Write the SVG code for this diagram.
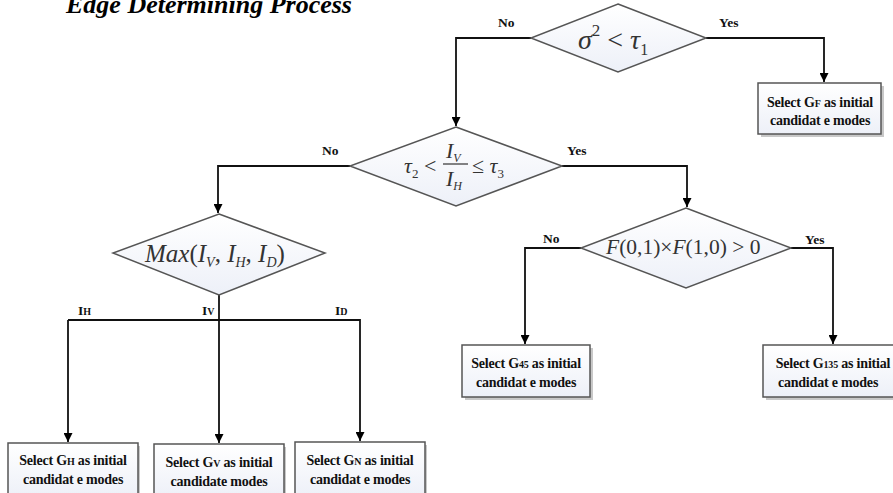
<svg xmlns="http://www.w3.org/2000/svg" width="893" height="493" viewBox="0 0 893 493">
<defs>
<linearGradient id="fillg" x1="0" y1="0" x2="0" y2="1">
<stop offset="0" stop-color="#ffffff"/>
<stop offset="1" stop-color="#edf0f8"/>
</linearGradient>
<marker id="arr" viewBox="0 0 10 10" refX="10" refY="5" markerWidth="9" markerHeight="9" markerUnits="userSpaceOnUse" orient="auto">
<path d="M0,0 L10,5 L0,10 Z" fill="#000"/>
</marker>
</defs>
<style>
.box{fill:url(#fillg);stroke:#555;stroke-width:1.5}
.shadow{fill:#c8c8c8}
.dia{fill:url(#fillg);stroke:#555;stroke-width:1.5}
.conn{fill:none;stroke:#111;stroke-width:1.8}
.lbl{font-family:"Liberation Serif",serif;font-weight:bold;font-size:13.5px;fill:#111}
.btxt{font-family:"Liberation Serif",serif;font-weight:bold;font-size:14px;fill:#111;text-anchor:middle;letter-spacing:-0.2px}
.sub{font-size:10px}
.math{font-family:"Liberation Serif",serif;font-style:italic;fill:#333}
.rm{font-style:normal}
.title{font-family:"Liberation Serif",serif;font-weight:bold;font-style:italic;font-size:26px;fill:#000}
</style>
<rect width="893" height="493" fill="#fff"/>
<text class="title" x="66" y="13">Edge Determining Process</text>

<g id="connectors">
<path class="conn" d="M531,38 H456 V126" marker-end="url(#arr)"/>
<path class="conn" d="M706,38 H824 V82" marker-end="url(#arr)"/>
<path class="conn" d="M350,166 H218 V213" marker-end="url(#arr)"/>
<path class="conn" d="M562,166 H687 V207" marker-end="url(#arr)"/>
<path class="conn" d="M581,248 H525 V344" marker-end="url(#arr)"/>
<path class="conn" d="M791,248 H833 V344" marker-end="url(#arr)"/>
<path class="conn" d="M219,295 V443" marker-end="url(#arr)"/>
<path class="conn" d="M68,320 V442" marker-end="url(#arr)"/>
<path class="conn" d="M68,320 H360 V441" marker-end="url(#arr)"/>
<text class="lbl" x="498" y="27">No</text>
<text class="lbl" x="719" y="27">Yes</text>
<text class="lbl" x="322" y="155">No</text>
<text class="lbl" x="567" y="155">Yes</text>
<text class="lbl" x="543" y="243">No</text>
<text class="lbl" x="805" y="244">Yes</text>
<text class="lbl" x="78" y="315">I<tspan class="sub">H</tspan></text>
<text class="lbl" x="202" y="315">I<tspan class="sub">V</tspan></text>
<text class="lbl" x="335" y="315">I<tspan class="sub">D</tspan></text>
</g>

<g id="d1">
<polygon class="dia" points="618,4 706,38 618,72 531,38"/>
<text class="math" x="578" y="49" font-size="28">σ<tspan class="rm" font-size="17" dy="-13">2</tspan><tspan dy="13" class="rm"> &lt; </tspan>τ<tspan class="rm" font-size="16" dy="6">1</tspan></text>
</g>

<g id="d2">
<polygon class="dia" points="456,127 562,166 456,206 350,166"/>
<text class="math" x="404" y="173" font-size="22">τ<tspan class="rm" font-size="13" dy="5">2</tspan><tspan class="rm" dy="-5"> &lt;</tspan></text>
<text class="math" x="446" y="158" font-size="22">I<tspan font-size="12" dy="4">V</tspan></text>
<line x1="443" y1="164" x2="468" y2="164" stroke="#333" stroke-width="1.2"/>
<text class="math" x="446" y="186" font-size="22">I<tspan font-size="12" dy="4">H</tspan></text>
<text class="math" x="472" y="173" font-size="22"><tspan class="rm">≤ </tspan>τ<tspan class="rm" font-size="13" dy="5">3</tspan></text>
</g>

<g id="d3">
<polygon class="dia" points="219,214 325,253 219,295 113,253"/>
<text class="math" x="145" y="262" font-size="25">Max<tspan class="rm">(</tspan>I<tspan font-size="14" dy="5">V</tspan><tspan class="rm" dy="-5">, </tspan>I<tspan font-size="14" dy="5">H</tspan><tspan class="rm" dy="-5">, </tspan>I<tspan font-size="14" dy="5">D</tspan><tspan class="rm" dy="-5">)</tspan></text>
</g>

<g id="d4">
<polygon class="dia" points="686,208 791,248 686,288 581,248"/>
<text class="math" x="606" y="254" font-size="21.5">F<tspan class="rm">(0,1)×</tspan>F<tspan class="rm">(1,0) &gt; 0</tspan></text>
</g>

<g id="boxF">
<rect class="shadow" x="761" y="86" width="123" height="51"/>
<rect class="box" x="758" y="83" width="123" height="51"/>
<text class="btxt" x="820" y="107">Select G<tspan class="sub">F</tspan> as initial</text>
<text class="btxt" x="820" y="125">candidat e modes</text>
</g>

<g id="box45">
<rect class="shadow" x="465" y="348" width="128" height="52"/>
<rect class="box" x="462" y="345" width="128" height="52"/>
<text class="btxt" x="526" y="368">Select G<tspan class="sub">45</tspan> as initial</text>
<text class="btxt" x="526" y="387">candidat e modes</text>
</g>

<g id="box135">
<rect class="shadow" x="766" y="348" width="130" height="52"/>
<rect class="box" x="763" y="345" width="132" height="52"/>
<text class="btxt" x="833" y="368">Select G<tspan class="sub">135</tspan> as initial</text>
<text class="btxt" x="828" y="387">candidat e modes</text>
</g>

<g id="boxH">
<rect class="shadow" x="11" y="446" width="129" height="52"/>
<rect class="box" x="8" y="443" width="130" height="55"/>
<text class="btxt" x="73" y="465">Select G<tspan class="sub">H</tspan> as initial</text>
<text class="btxt" x="73" y="484">candidat e modes</text>
</g>

<g id="boxV">
<rect class="shadow" x="157" y="447" width="129" height="52"/>
<rect class="box" x="154" y="444" width="130" height="55"/>
<text class="btxt" x="219" y="467">Select G<tspan class="sub">V</tspan> as initial</text>
<text class="btxt" x="219" y="486">candidate modes</text>
</g>

<g id="boxN">
<rect class="shadow" x="298" y="445" width="129" height="52"/>
<rect class="box" x="295" y="442" width="130" height="55"/>
<text class="btxt" x="360" y="465">Select G<tspan class="sub">N</tspan> as initial</text>
<text class="btxt" x="360" y="484">candidat e modes</text>
</g>
</svg>
